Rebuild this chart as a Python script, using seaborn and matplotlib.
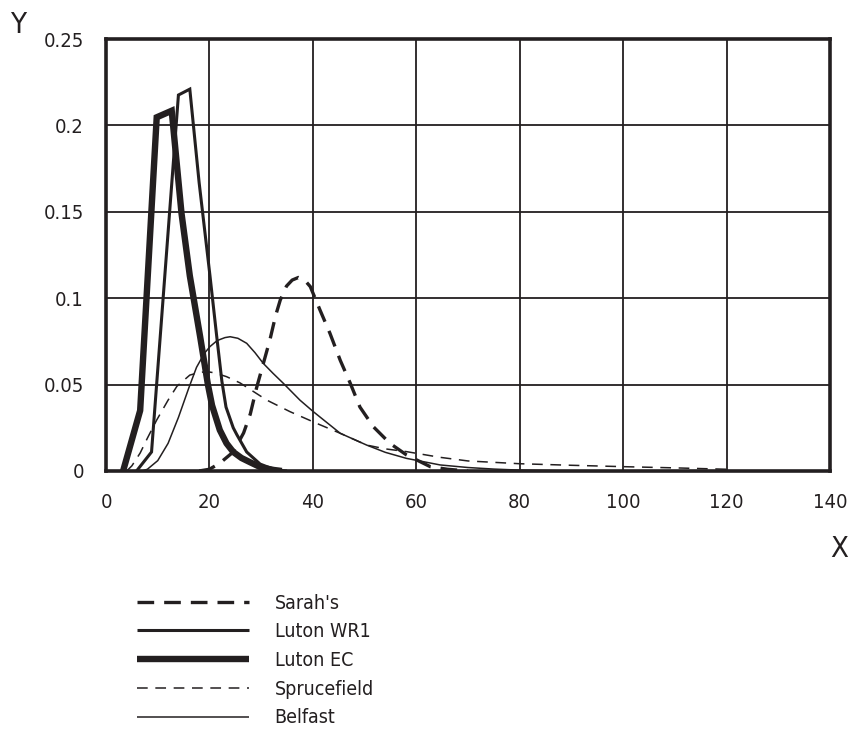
import numpy as np
import pandas as pd
import seaborn as sns
import matplotlib.pyplot as plt

# values
sarah_x = [18, 20, 22, 24.6, 26.6, 27.9, 29.1, 30.4, 31.7, 32.8, 33.7, 34.9, 36, 37.2, 38.4, 39.5, 41.4, 43.3,
           45.3, 47.2, 49.1, 51.7, 54.9, 58.1, 62.7, 66, 70]
sarah_y = [0.0, 0.001, 0.0045, 0.011, 0.022, 0.033, 0.048, 0.062, 0.076, 0.09, 0.099, 0.107, 0.1105, 0.112,
           0.1105, 0.1067, 0.093, 0.0797, 0.064, 0.051, 0.037, 0.0256, 0.016, 0.0093, 0.0025, 0.001, 0.0]

wr1_x = [5.9, 8.8, 14, 16.2, 18, 20.1, 21.4, 22.4, 23.2, 24.6, 25.3, 27.2, 29.8, 31.1, 33, 35]
wr1_y = [0.0, 0.011, 0.2176, 0.221, 0.167, 0.113, 0.078, 0.052, 0.037, 0.025, 0.021, 0.011, 0.004, 0.0025,
         0.0005, 0.0]

ec_x = [3.3, 6.6, 9.8, 12.7, 14.6, 16.2, 18.2, 19.7, 20.5, 22, 23.3, 24.6, 26.2, 27.9, 30, 32.4, 34]
ec_y = [0.0, 0.035, 0.2047, 0.2085, 0.149, 0.113, 0.0777, 0.05, 0.038, 0.0237, 0.016, 0.011, 0.0075, 0.005,
        0.002, 0.0006, 0.0]

spruce_x = [4, 5, 6.6, 8, 9.8, 12, 13.7, 16.2, 18, 19.5, 21, 23.3, 25.9, 28.5, 31.1, 35.6, 40.7, 45.3, 50.4,
            54, 58.1, 64.6, 70, 80, 90, 100, 110, 120]
spruce_y = [0.0, 0.003, 0.0104, 0.019, 0.0295, 0.041, 0.049, 0.0555, 0.057, 0.0575, 0.0568, 0.0546, 0.051,
            0.046, 0.041, 0.0343, 0.0276, 0.0218, 0.015, 0.0128, 0.0112, 0.0079, 0.0058, 0.0042, 0.0033,
            0.0025, 0.0018, 0.001]

belfast_x = [7, 8, 10, 12, 14, 16, 17.5, 19, 20.1, 21.5, 23, 24, 25.5, 27.2, 28.8, 30.4, 32.3, 34.3, 37.5,
             40.1, 45.3, 50.4, 54, 58.1, 64.6, 70, 75, 80, 90]
belfast_y = [0.0, 0.001, 0.006, 0.016, 0.031, 0.048, 0.06, 0.068, 0.072, 0.0755, 0.0772, 0.0777, 0.0768,
             0.0739, 0.0685, 0.0623, 0.0565, 0.0507, 0.041, 0.0343, 0.0218, 0.015, 0.0108, 0.0073, 0.0035,
             0.002, 0.0011, 0.0005, 0.0]

names = ["Sarah's", "Luton WR1", "Luton EC", "Sprucefield", "Belfast"]
xs = [sarah_x, wr1_x, ec_x, spruce_x, belfast_x]
ys = [sarah_y, wr1_y, ec_y, spruce_y, belfast_y]

df = pd.concat([pd.DataFrame({"x": x, "y": y, "site": n}) for n, x, y in zip(names, xs, ys)])

styles = {
    "Sarah's": dict(lw=2.4, dashes=(5, 3)),
    "Luton WR1": dict(lw=2.2, dashes=None),
    "Luton EC": dict(lw=4.6, dashes=None),
    "Sprucefield": dict(lw=1.1, dashes=(7, 5)),
    "Belfast": dict(lw=1.1, dashes=None),
}

sns.set_style("white")
plt.rcParams['font.family'] = ['DejaVu Sans']
plt.rcParams['font.stretch'] = 'condensed'

fig = plt.figure(figsize=(8.51, 7.31), dpi=100)
ax = fig.add_axes([0.1246, 0.3557, 0.8507, 0.5909])

for n in names[::-1]:
    st = styles[n]
    sns.lineplot(data=df[df.site == n], x="x", y="y", ax=ax, color="#231f20",
                 lw=st["lw"], label=n, sort=False, estimator=None)
    line = ax.get_lines()[-1]
    if st["dashes"]:
        line.set_dashes(st["dashes"])
    line.set_solid_joinstyle("miter")
    line.set_solid_capstyle("butt")

ax.set_xlim(0, 140)
ax.set_ylim(0, 0.25)
ax.set_xticks(np.arange(0, 141, 20))
ax.set_yticks([0, 0.05, 0.1, 0.15, 0.2, 0.25])
ax.set_yticklabels(["0", "0.05", "0.1", "0.15", "0.2", "0.25"])
ax.grid(True, color="#231f20", lw=1.3)
ax.set_axisbelow(True)
for s in ax.spines.values():
    s.set_linewidth(2.6)
    s.set_color("#231f20")
ax.tick_params(direction="out", length=8, width=1.3, color="#231f20",
               labelsize=14.5, pad=8, labelcolor="#231f20")
ax.set_xlabel("")
ax.set_ylabel("")

fig.text(0.012, 0.955, "Y", fontsize=21, color="#231f20")
fig.text(0.975, 0.238, "X", fontsize=21, color="#231f20")

h, l = ax.get_legend_handles_labels()
order = [l.index(n) for n in names]
ax.legend([h[i] for i in order], names, loc="upper left", bbox_to_anchor=(0.14, 0.212),
          bbox_transform=fig.transFigure, frameon=False, fontsize=14, handlelength=5.8,
          handletextpad=1.3, labelspacing=0.5, labelcolor="#231f20")

fig.savefig("out.png", dpi=100)
